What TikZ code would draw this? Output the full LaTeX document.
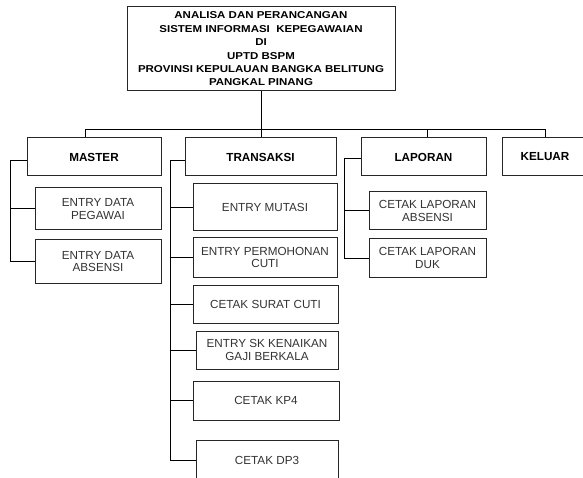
\documentclass[tikz,border=0pt]{standalone}
\usepackage{fontspec}
\setmainfont{Liberation Sans}
\newfontfamily\judulfont[FakeStretch=1.15]{Liberation Sans}

\begin{document}
\begin{tikzpicture}[x=1pt, y=-1pt, line width=1pt,
		kotak/.style={draw=black!85, align=center, inner sep=0pt},
		judul/.style={kotak, font=\judulfont\bfseries\fontsize{10}{13.4}\selectfont},
		menu/.style={kotak, minimum height=38pt, font=\bfseries\fontsize{11.7}{12.5}\selectfont},
		sub/.style={kotak, text=black!80, font=\fontsize{11.7}{12.5}\selectfont}]
		\useasboundingbox (0,0) rectangle (583,478);
		\clip (0,0) rectangle (583,478);

		\node[judul, minimum width=268pt, minimum height=84pt] (top) at (261,49) {ANALISA DAN PERANCANGAN\\SISTEM INFORMASI~ KEPEGAWAIAN\\DI\\UPTD BSPM\\PROVINSI KEPULAUAN BANGKA BELITUNG\\PANGKAL PINANG};

		\node[menu, minimum width=134pt] (master) at (94,157) {MASTER};
		\node[menu, minimum width=151pt] (transaksi) at (260.5,157) {TRANSAKSI};
		\node[menu, minimum width=125pt] (laporan) at (423.5,157) {LAPORAN};
		\node[menu, minimum width=86pt] (keluar) at (545,157) {KELUAR};

		\node[sub, minimum width=126pt, minimum height=42pt] (pegawai) at (98,209) {ENTRY DATA\\PEGAWAI};
		\node[sub, minimum width=126pt, minimum height=43pt] (absensi) at (98,261.5) {ENTRY DATA\\ABSENSI};

		\node[sub, minimum width=144pt, minimum height=47pt] (mutasi) at (265,207.5) {ENTRY MUTASI};
		\node[sub, minimum width=144pt, minimum height=39pt] (cuti) at (265,257.5) {ENTRY PERMOHONAN\\CUTI};
		\node[sub, minimum width=145pt, minimum height=38pt] (suratcuti) at (265.5,304) {CETAK SURAT CUTI};
		\node[sub, minimum width=142pt, minimum height=38pt] (gaji) at (267,350) {ENTRY SK KENAIKAN\\GAJI BERKALA};
		\node[sub, minimum width=146pt, minimum height=39pt] (kpempat) at (266,400.5) {CETAK KP4};
		\node[sub, minimum width=142pt, minimum height=40pt] (dptiga) at (267,460) {CETAK DP3};

		\node[sub, minimum width=117pt, minimum height=38pt] (lapabsensi) at (427.5,211) {CETAK LAPORAN\\ABSENSI};
		\node[sub, minimum width=117pt, minimum height=38pt] (duk) at (427.5,258) {CETAK LAPORAN\\DUK};

		\coordinate (rel) at (0,130);
		\coordinate (jm) at (10,0);
		\coordinate (jt) at (170,0);
		\coordinate (jl) at (344,0);

		\draw (top.south) -- (transaksi.north -| top.south);
		\draw ([xshift=-9pt]master.north) |- (rel -| keluar.north) -- (keluar.north);
		\draw ([xshift=3.5pt]laporan.north) -- ([xshift=3.5pt]laporan.north |- rel);

		\draw ([yshift=-4pt]master.west) -| (jm |- absensi.west) -- (absensi.west);
		\draw (jm |- pegawai.west) -- (pegawai.west);

		\draw ([yshift=-4pt]transaksi.west) -| (jt |- dptiga.west) -- (dptiga.west);
		\foreach \anak in {mutasi,cuti,suratcuti,gaji,kpempat}
			\draw (jt |- \anak.west) -- (\anak.west);

		\draw ([yshift=-2pt]laporan.west) -| (jl |- duk.west) -- (duk.west);
		\draw (jl |- lapabsensi.west) -- (lapabsensi.west);
	\end{tikzpicture}
\end{document}
